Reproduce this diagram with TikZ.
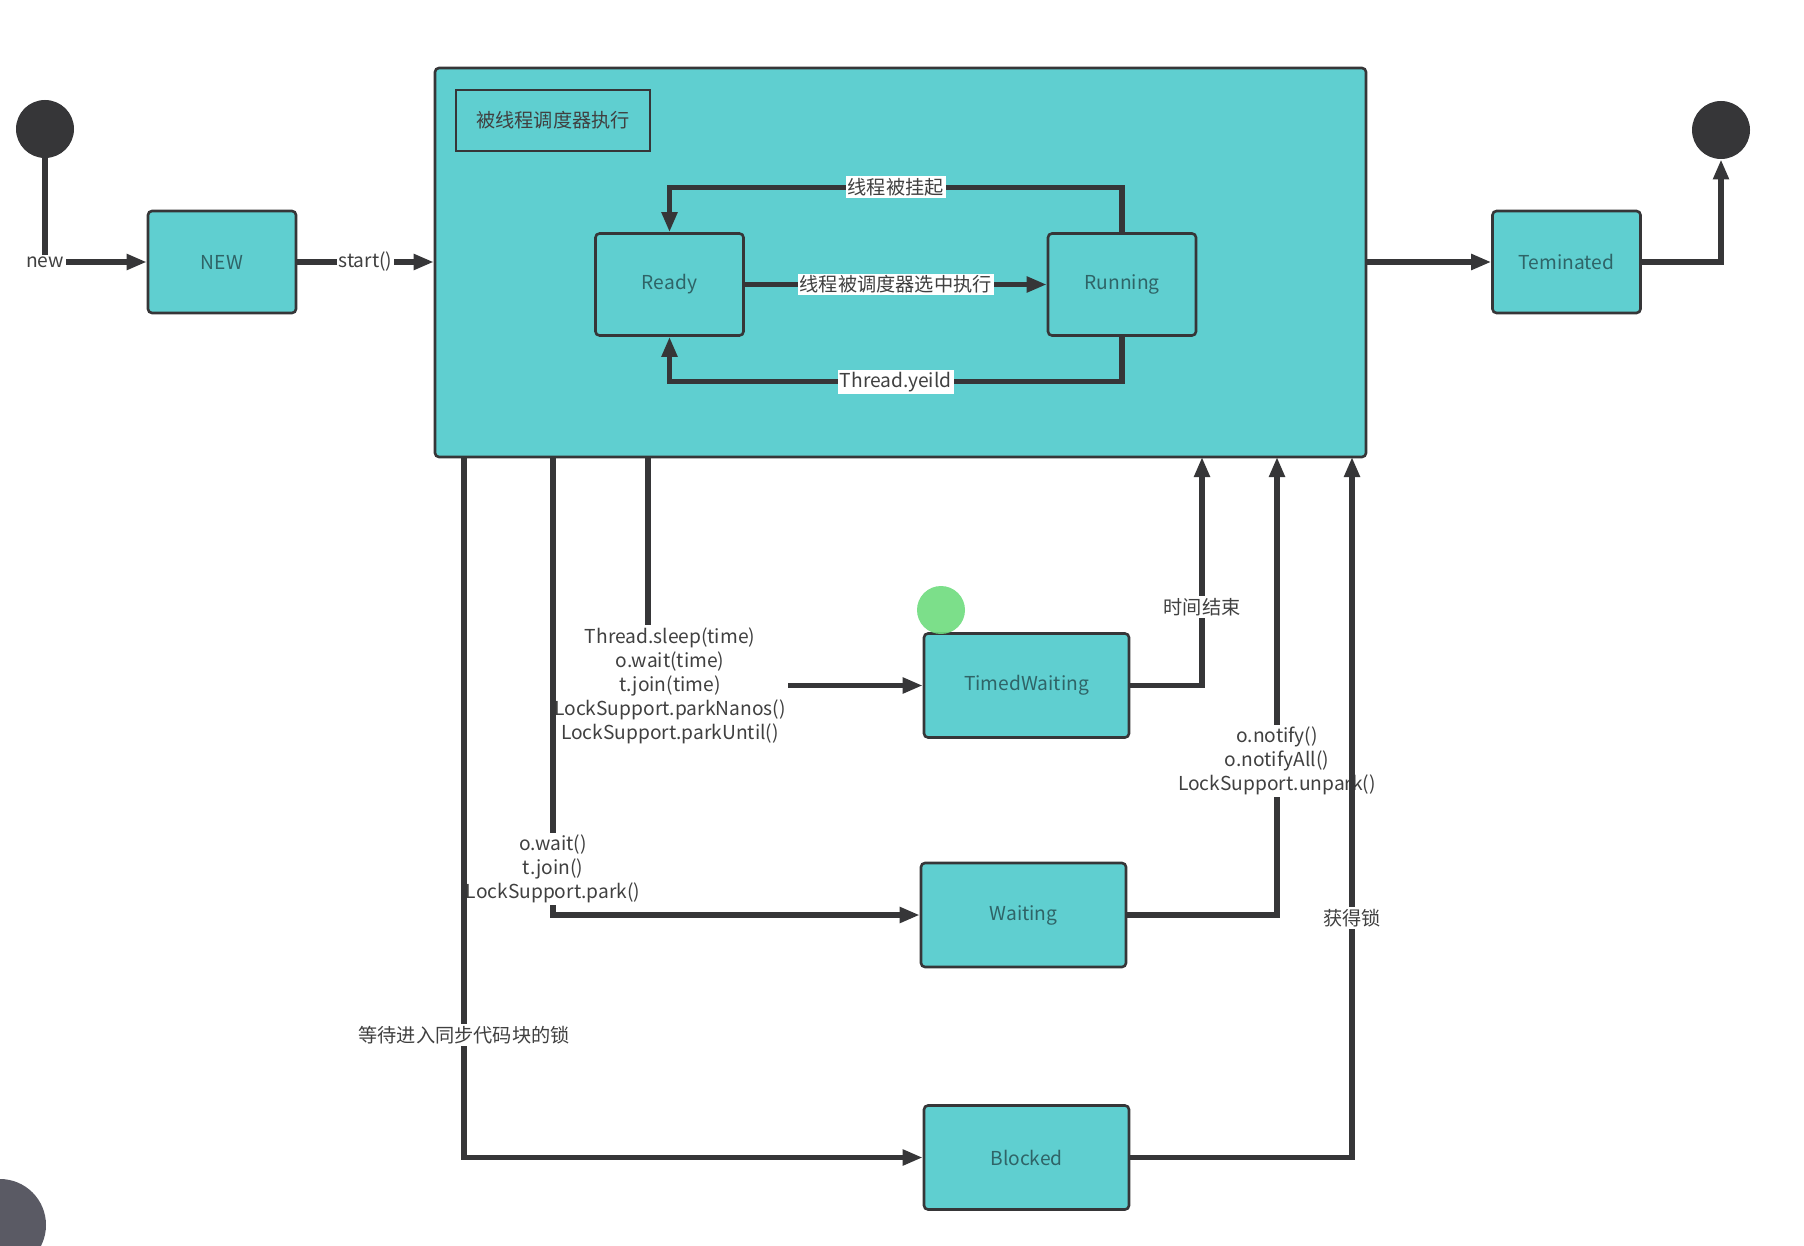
\documentclass[tikz,border=0pt]{standalone}
\usepackage{fontspec}
\setmainfont{Noto Sans CJK SC}
\usetikzlibrary{arrows.meta}
\definecolor{cyanfill}{HTML}{5FCFD0}
\definecolor{ink}{HTML}{363638}
\definecolor{boxtext}{HTML}{2F6467}
\definecolor{lbltext}{HTML}{404040}
\definecolor{cursor}{HTML}{6EDC7E}
\definecolor{playergray}{HTML}{5A5A64}

\begin{document}
\begin{tikzpicture}[x=0.5pt,y=-0.5pt,font=\fontsize{9.6}{12}\selectfont,
  state/.style={draw=ink,line width=1.3pt,fill=cyanfill,rounded corners=2pt,text=boxtext,
    minimum width=74pt,minimum height=51pt,inner sep=0pt},
  wide/.style={state,minimum width=102.5pt,minimum height=52pt},
  dot/.style={circle,fill=ink,minimum size=29pt,inner sep=0pt},
  flow/.style={draw=ink,line width=2.6pt,-{Triangle[length=10pt,width=7.5pt]}},
  lbl/.style={fill=white,text=lbltext,inner sep=1pt,align=center}]

\path[use as bounding box,fill=white] (0,0) rectangle (1804,1246);

\node[dot] (init) at (45,129) {};
\node[dot] (final) at (1721,130) {};
\node[state] (new) at (222,262) {NEW};
\node[state,minimum width=465.5pt,minimum height=194.5pt] (sched) at (900.5,262.5) {};
\node[draw=ink,line width=1.3pt,minimum width=97pt,minimum height=30.5pt,text=lbltext] (title) at (553,120.5) {被线程调度器执行};
\node[state] (ready) at (669.5,284.5) {Ready};
\node[state] (running) at (1122,284.5) {Running};
\node[state] (term) at (1566.5,262) {Teminated};
\node[wide] (timed) at (1026.5,685.5) {TimedWaiting};
\node[wide] (waiting) at (1023.5,915) {Waiting};
\node[wide] (blocked) at (1026.5,1157.5) {Blocked};

% start and end
\draw[flow] (init) |- node[lbl,pos=0.5] {new} (new);
\draw[flow] (new.east) -- node[lbl] {start()} (new.east -| sched.west);
\draw[flow] (sched.east |- term) -- (term);
\draw[flow] (term) -| (final);

% inside the scheduler
\draw[flow] (running.north) -- ++(0,-45) -| node[lbl,pos=0.25] {线程被挂起} (ready.north);
\draw[flow] (ready) -- node[lbl] {线程被调度器选中执行} (running);
\draw[flow] (running.south) -- ++(0,45) -| node[lbl,pos=0.25] {Thread.yeild} (ready.south);

\coordinate (b1) at (464,457);
\coordinate (b2) at (553,457);
\coordinate (b3) at (648,457);
\coordinate (t1) at (1202,457);
\coordinate (t2) at (1277,457);
\coordinate (t3) at (1352,457);

% leaving the scheduler
\draw[flow] (b3) |- node[lbl,xshift=11pt] {Thread.sleep(time)\\o.wait(time)\\t.join(time)\\LockSupport.parkNanos()\\LockSupport.parkUntil()} (timed);
\draw[flow] (b2) |- node[lbl,pos=0.45] {o.wait()\\t.join()\\LockSupport.park()} (waiting);
\draw[flow] (b1) |- node[lbl,pos=0.4125] {等待进入同步代码块的锁} (blocked);

% back to the scheduler
\draw[flow] (timed) -| node[lbl,pos=0.672] {时间结束} (t1);
\draw[flow] (waiting) -| node[lbl,pos=0.668] {o.notify()\\o.notifyAll()\\LockSupport.unpark()} (t2);
\draw[flow] (blocked) -| node[lbl,pos=0.671] {获得锁} (t3);

\fill[cursor,opacity=0.9] (941,610) circle (12pt);
\begin{scope}
\clip (0,0) rectangle (1804,1246);
\fill[playergray] (0,1225) circle (23pt);
\end{scope}

\end{tikzpicture}
\end{document}
